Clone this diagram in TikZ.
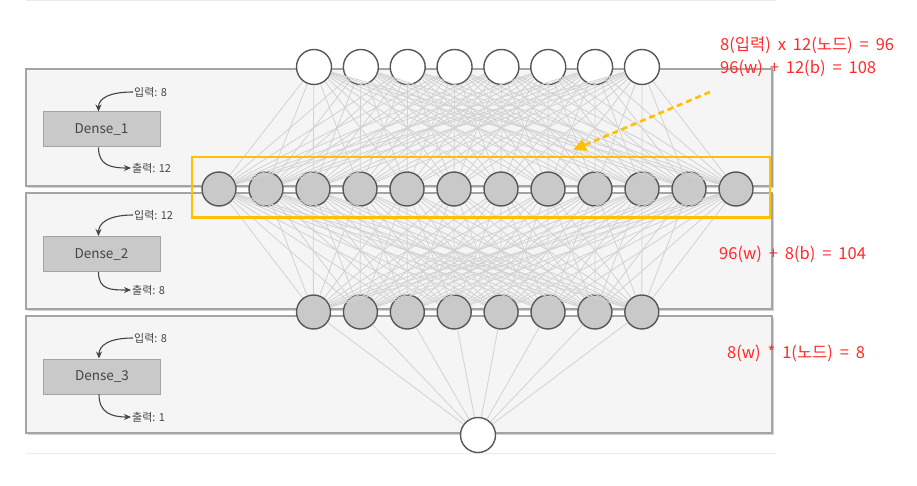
\documentclass[tikz,border=0pt]{standalone}
\usepackage{fontspec}
\setmainfont{Noto Sans CJK KR}
\usetikzlibrary{arrows.meta}

\definecolor{framefill}{HTML}{F5F5F5}
\definecolor{frameline}{HTML}{A4A4A4}
\definecolor{frameshade}{HTML}{D2D2D2}
\definecolor{wire}{HTML}{D2D2D2}
\definecolor{cellfill}{HTML}{C9C9C9}
\definecolor{ring}{HTML}{575757}
\definecolor{gold}{HTML}{FFC000}
\definecolor{note}{HTML}{FF2B2B}
\definecolor{ink}{HTML}{454545}
\definecolor{rule}{HTML}{EBEBEB}

\newcommand\opgap{\hspace{0.42em}}

\tikzset{
  layerframe/.style={fill=framefill, draw=frameline, line width=1.3pt},
  frameshadow/.style={fill=frameshade},
  densebox/.style={rectangle, fill=cellfill, draw=frameline, line width=1pt,
    minimum width=117pt, minimum height=35pt, inner sep=0pt,
    font=\fontsize{13.5}{15}\selectfont, text=ink},
  shapelabel/.style={font=\fontsize{11}{13}\selectfont, text=ink, inner sep=1pt},
  flow/.style={draw=ink, line width=1.1pt, -{Stealth[length=7pt,width=6pt]}},
  openunit/.style={circle, fill=white, draw=ring, line width=1.4pt,
    minimum size=35pt, inner sep=0pt},
  grayunit/.style={circle, fill=cellfill, draw=ring, line width=1.4pt,
    minimum size=34pt, inner sep=0pt},
  wire/.style={draw=wire, line width=0.8pt},
  notetext/.style={text=note, font=\fontsize{16.5}{18}\selectfont, inner sep=0pt, anchor=west},
  focusbox/.style={draw=gold, line width=2.4pt},
  hint/.style={draw=gold, line width=2.6pt, dash pattern=on 6pt off 4pt,
    -{Triangle[length=13pt,width=12pt,fill=gold]}}
}

\begin{document}
\begin{tikzpicture}[x=1pt, y=-1pt]
  \useasboundingbox (0,0) rectangle (917,486);

  % thin rules above and below the stack
  \draw[rule, line width=1pt] (26,1) -- (776,1);
  \draw[rule, line width=1pt] (26,453) -- (776,453);

  % the three layer panels
  \foreach \t/\b in {69/186, 193/309, 316/433} {
    \fill[frameshadow] (27.5,\t+1.5) rectangle (773.5,\b+1.8);
    \draw[layerframe] (26,\t) rectangle (772,\b);
  }

  % layer descriptions
  \node[densebox] (d1) at (101.5,129.5) {Dense\_1};
  \node[densebox] (d2) at (101.5,254)   {Dense\_2};
  \node[densebox] (d3) at (102,376.5)   {Dense\_3};

  \node[shapelabel, anchor=west] (in1)  at (133,92)  {입력: 8};
  \node[shapelabel, anchor=west] (out1) at (131,168) {출력: 12};
  \node[shapelabel, anchor=west] (in2)  at (133,215) {입력: 12};
  \node[shapelabel, anchor=west] (out2) at (131,290) {출력: 8};
  \node[shapelabel, anchor=west] (in3)  at (133,338) {입력: 8};
  \node[shapelabel, anchor=west] (out3) at (131,417) {출력: 1};

  % input arrow curls down onto the box, output arrow curls out to the right
  \foreach \d/\i/\o in {d1/in1/out1, d2/in2/out2, d3/in3/out3} {
    \draw[flow] (\i.west) .. controls ([xshift=-26pt]\i.west) and ([xshift=-3pt,yshift=12pt]\d.north) .. ([xshift=-3pt]\d.north);
    \draw[flow] ([xshift=-3pt]\d.south) .. controls ([xshift=-3pt,yshift=-18pt]\d.south) and ([xshift=-20pt]\o.west) .. (\o.west);
  }

  % neurons
  \foreach \i in {1,...,8}
    \node[openunit] (a\i) at ({314+(\i-1)*46.85},67) {};
  \foreach \j in {1,...,12}
    \node[grayunit] (b\j) at ({219+(\j-1)*47},189) {};
  \foreach \k in {1,...,8}
    \node[grayunit] (c\k) at ({313.5+(\k-1)*46.9},312) {};
  \node[openunit] (y) at (478,435) {};

  % full connections between consecutive layers
  \foreach \i in {1,...,8}
    \foreach \j in {1,...,12}
      \draw[wire] (a\i) -- (b\j);
  \foreach \j in {1,...,12}
    \foreach \k in {1,...,8}
      \draw[wire] (b\j) -- (c\k);
  \foreach \k in {1,...,8}
    \draw[wire] (c\k) -- (y);

  % highlighted hidden layer and pointer
  \draw[focusbox] (192,157) rectangle (770,217.5);
  \coordinate (hintstart) at (710,92);
  \coordinate (hintend) at (573,150);
  \draw[hint] (hintstart) -- (hintend);

  % parameter counts
  \node[notetext] (n1) at (720,45)  {8(입력)\opgap x\opgap 12(노드)\opgap =\opgap 96};
  \node[notetext] (n2) at (720,68)  {96(w)\opgap +\opgap 12(b)\opgap =\opgap 108};
  \node[notetext] (n3) at (719,254) {96(w)\opgap +\opgap 8(b)\opgap =\opgap 104};
  \node[notetext] (n4) at (727,353) {8(w)\opgap *\opgap 1(노드)\opgap =\opgap 8};
\end{tikzpicture}
\end{document}
